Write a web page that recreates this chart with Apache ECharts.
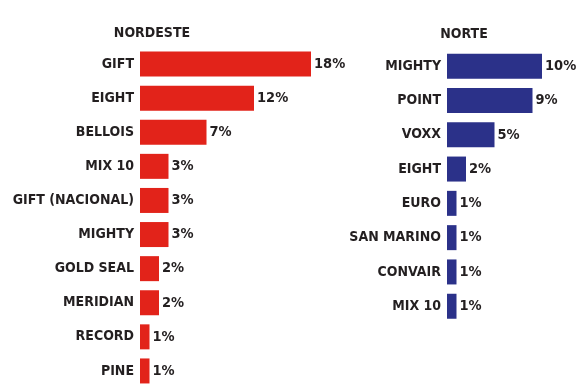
<!DOCTYPE html>
<html>
<head>
<meta charset="utf-8">
<script src="https://cdn.jsdelivr.net/npm/echarts@6/dist/echarts.min.js"></script>
<style>html,body{margin:0;padding:0;background:#fff}#c{width:579px;height:388px}</style>
</head>
<body>
<div id="c"></div>
<script>
const nordesteCategories = ["GIFT","EIGHT","BELLOIS","MIX 10","GIFT (NACIONAL)","MIGHTY","GOLD SEAL","MERIDIAN","RECORD","PINE"];
const nordesteValues = [18,12,7,3,3,3,2,2,1,1];
const norteCategories = ["MIGHTY","POINT","VOXX","EIGHT","EURO","SAN MARINO","CONVAIR","MIX 10"];
const norteValues = [10,9,5,2,1,1,1,1];
const titles = ["NORDESTE","NORTE"];

const FONT = '"Liberation Sans Narrow", "DejaVu Sans Condensed", sans-serif';
const TXT = '#231f20';
const RED = '#e2231a';
const BLUE = '#2b3189';

const chart = echarts.init(document.getElementById('c'), null, {renderer: 'canvas'});

function yAx(idx, cats) {
  return {
    type: 'category', gridIndex: idx, data: cats, inverse: true,
    axisLine: {show: false}, axisTick: {show: false}, splitLine: {show: false},
    axisLabel: {margin: 6, color: TXT, fontFamily: FONT, fontWeight: 'bold', fontSize: 14}
  };
}
function xAx(idx, max) {
  return {type: 'value', gridIndex: idx, min: 0, max: max, show: false, splitLine: {show: false}};
}
function ser(idx, vals, color) {
  return {
    type: 'bar', xAxisIndex: idx, yAxisIndex: idx, data: vals, barWidth: 25,
    itemStyle: {color: color},
    label: {show: true, position: 'right', distance: 3, formatter: '{c}%',
      color: TXT, fontFamily: FONT, fontWeight: 'bold', fontSize: 14.5},
    silent: true
  };
}

chart.setOption({
  animation: false,
  title: [
    {text: titles[0], left: 147, top: 21, textAlign: 'center',
     textStyle: {fontFamily: FONT, fontWeight: 'bold', fontSize: 14, color: TXT}},
    {text: titles[1], left: 459, top: 22, textAlign: 'center',
     textStyle: {fontFamily: FONT, fontWeight: 'bold', fontSize: 14, color: TXT}}
  ],
  grid: [
    {left: 140, top: 47, width: 190, height: 343, containLabel: false},
    {left: 447, top: 49, width: 114, height: 274.4, containLabel: false}
  ],
  xAxis: [xAx(0, 20), xAx(1, 12)],
  yAxis: [yAx(0, nordesteCategories), yAx(1, norteCategories)],
  series: [ser(0, nordesteValues, RED), ser(1, norteValues, BLUE)]
});
</script>
</body>
</html>
